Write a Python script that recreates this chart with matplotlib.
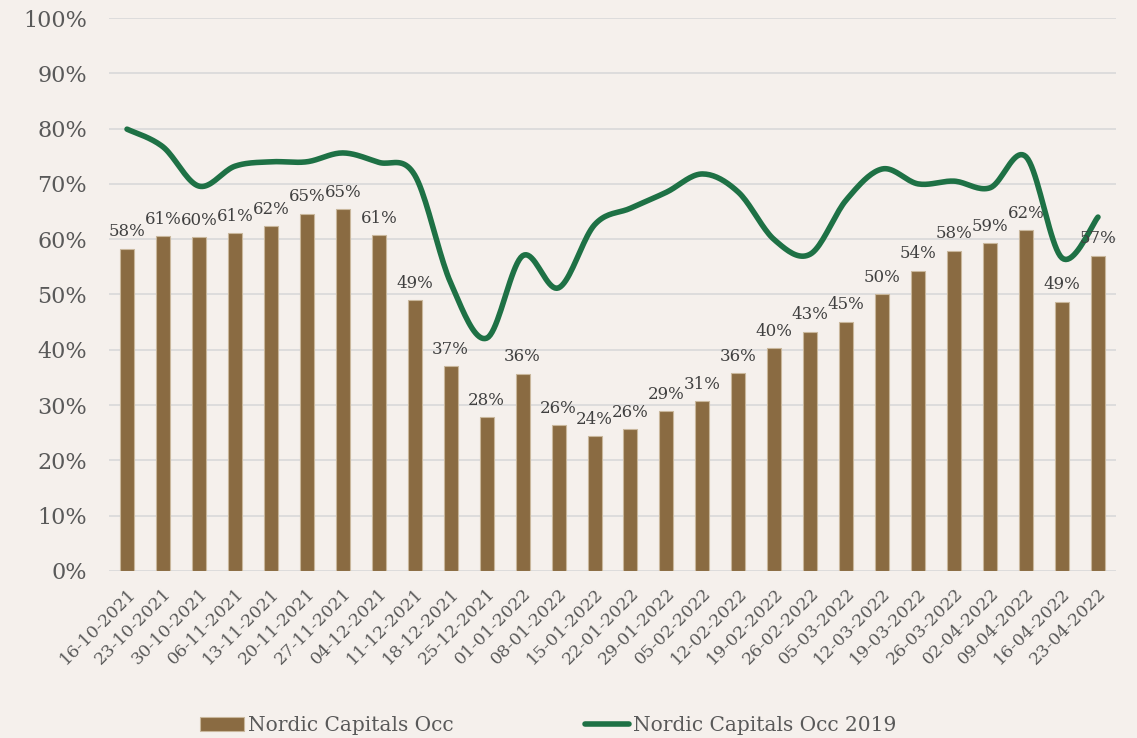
import matplotlib
matplotlib.use("Agg")
import matplotlib.pyplot as plt
import numpy as np
from matplotlib.ticker import FuncFormatter

weeks = ["16-10-2021", "23-10-2021", "30-10-2021", "06-11-2021", "13-11-2021",
         "20-11-2021", "27-11-2021", "04-12-2021", "11-12-2021", "18-12-2021",
         "25-12-2021", "01-01-2022", "08-01-2022", "15-01-2022", "22-01-2022",
         "29-01-2022", "05-02-2022", "12-02-2022", "19-02-2022", "26-02-2022",
         "05-03-2022", "12-03-2022", "19-03-2022", "26-03-2022", "02-04-2022",
         "09-04-2022", "16-04-2022", "23-04-2022"]
occ = [58.3, 60.6, 60.4, 61.1, 62.3, 64.6, 65.4, 60.7, 49.0, 37.1,
       27.8, 35.7, 26.4, 24.4, 25.6, 28.9, 30.7, 35.8, 40.3, 43.3,
       45.1, 50.1, 54.3, 57.9, 59.3, 61.6, 48.7, 57.0]
occ_2019 = [79.9, 76.7, 69.6, 73.2, 74.0, 74.0, 75.6, 73.9, 71.6, 52.1,
            42.1, 57.0, 51.2, 62.6, 65.6, 68.5, 71.8, 68.5, 59.9, 57.3,
            67.1, 72.7, 70.0, 70.5, 69.3, 74.9, 56.6, 64.0]

bg = "#F5F0EC"
bar_col = "#8A6B42"
line_col = "#1E7145"
txt = "#595959"
font = "DejaVu Serif"


def smooth(x, y, n=20):
    # catmull-rom style smoothing, like the spreadsheet "smoothed line"
    x = np.asarray(x, float)
    y = np.asarray(y, float)
    xs, ys = [], []
    for i in range(len(x) - 1):
        p0 = (x[max(i - 1, 0)], y[max(i - 1, 0)])
        p1 = (x[i], y[i])
        p2 = (x[i + 1], y[i + 1])
        p3 = (x[min(i + 2, len(x) - 1)], y[min(i + 2, len(x) - 1)])
        c1 = (p1[0] + (p2[0] - p0[0]) / 6, p1[1] + (p2[1] - p0[1]) / 6)
        c2 = (p2[0] - (p3[0] - p1[0]) / 6, p2[1] - (p3[1] - p1[1]) / 6)
        t = np.linspace(0, 1, n, endpoint=False)
        for a, b in [(0, xs), (1, ys)]:
            b.extend((1 - t) ** 3 * p1[a] + 3 * (1 - t) ** 2 * t * c1[a]
                     + 3 * (1 - t) * t ** 2 * c2[a] + t ** 3 * p2[a])
    xs.append(x[-1])
    ys.append(y[-1])
    return np.array(xs), np.array(ys)


fig = plt.figure(figsize=(11.37, 7.38), dpi=100, facecolor=bg)
ax = fig.add_axes([0.0959, 0.2263, 0.8856, 0.7493], facecolor=bg)

x = np.arange(len(weeks))
bars = ax.bar(x, occ, width=0.39, color=bar_col, edgecolor="#C9B79C",
              linewidth=0.8, label="Nordic Capitals Occ", zorder=2)
sx, sy = smooth(x, occ_2019)
line, = ax.plot(sx, sy, color=line_col, linewidth=4, solid_capstyle="round",
                label="Nordic Capitals Occ 2019", zorder=3)

for xi, v in zip(x, occ):
    ax.annotate(f"{v:.0f}%", (xi, v), xytext=(0, 6), textcoords="offset points",
                ha="center", va="bottom", fontsize=12, color="#404040",
                family=font, zorder=4)

ax.set_xlim(-0.5, len(weeks) - 0.5)
ax.set_ylim(0, 100)
ax.set_yticks(np.arange(0, 101, 10))
ax.yaxis.set_major_formatter(FuncFormatter(lambda v, p: f"{v:.0f}%"))
ax.set_xticks(x)
ax.set_xticklabels(weeks, rotation=45, ha="right", rotation_mode="anchor",
                   fontsize=12.5, color=txt, family=font)
for lab in ax.get_yticklabels():
    lab.set_fontsize(16)
    lab.set_color(txt)
    lab.set_family(font)
ax.tick_params(axis="y", length=0, pad=16)
ax.tick_params(axis="x", length=0, pad=10)
ax.grid(axis="y", color="#D9D9D9", linewidth=1.2, zorder=0)
ax.set_axisbelow(True)
for s in ax.spines.values():
    s.set_visible(False)

leg = fig.legend([bars, line], ["Nordic Capitals Occ", "Nordic Capitals Occ 2019"],
                 loc="lower center", ncol=2, frameon=False,
                 bbox_to_anchor=(0.482, -0.02),
                 prop={"family": font, "size": 14.5}, handlelength=2.2,
                 handletextpad=0.2, columnspacing=6.5)
for t in leg.get_texts():
    t.set_color(txt)

fig.savefig("out.png", dpi=100, facecolor=bg)
